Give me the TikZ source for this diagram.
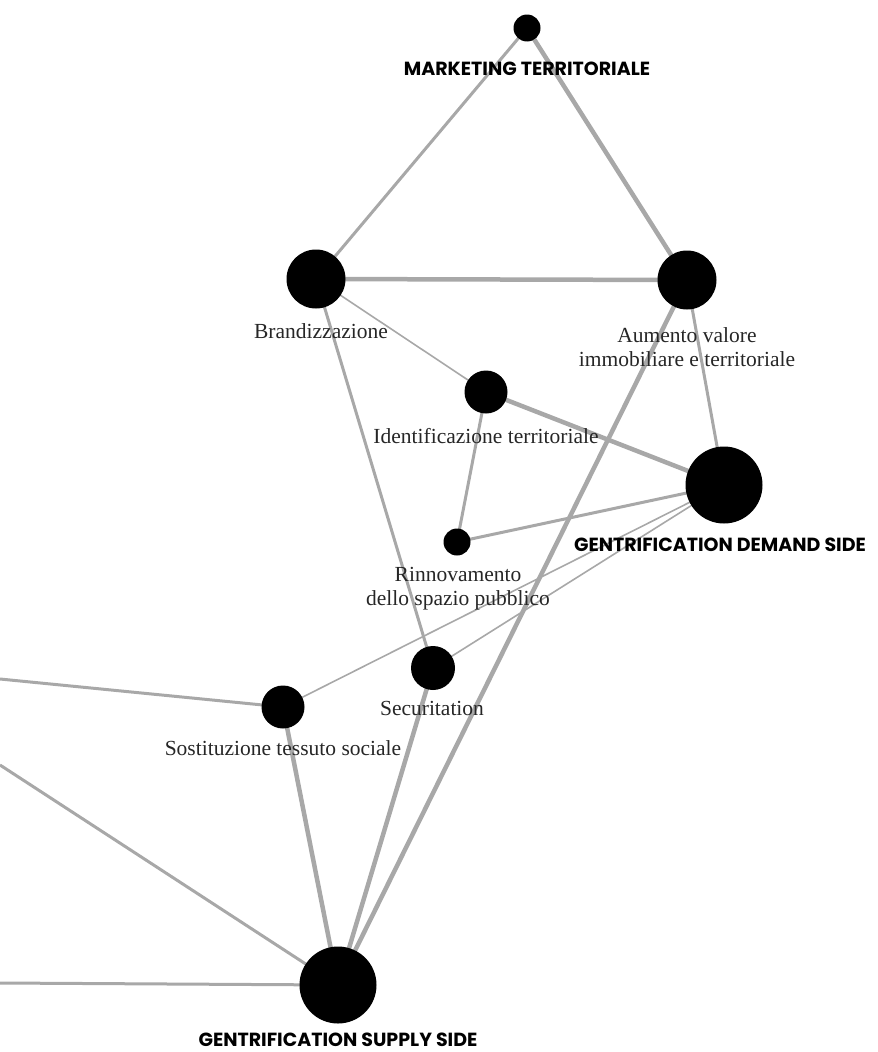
\documentclass[tikz,border=0pt]{standalone}
\usepackage{fontspec}
\setmainfont{Liberation Serif}
\setsansfont{Poppins}
\usetikzlibrary{backgrounds}
\definecolor{edgegray}{RGB}{168,168,168}
\tikzset{
  dot/.style={circle, fill=black, draw=none, inner sep=0pt, minimum size=#1},
  lbl/.style={font=\fontsize{21.5}{24}\selectfont, inner sep=0pt, align=center, text=black!85},
  caplbl/.style={font=\sffamily\bfseries\fontsize{19}{22}\selectfont, inner sep=0pt},
  thinE/.style={draw=edgegray, line width=1.6pt},
  medE/.style={draw=edgegray, line width=3pt},
  thickE/.style={draw=edgegray, line width=4.5pt},
}
\begin{document}
\begin{tikzpicture}[x=1pt,y=-1pt]
\useasboundingbox (0,0) rectangle (878,1052);
% nodes
\node[dot=27pt] (mkt) at (527,28) {};
\node[dot=59pt] (brand) at (316,279) {};
\node[dot=59pt] (aum) at (687,280) {};
\node[dot=43pt] (ident) at (486,392) {};
\node[dot=77pt] (dem) at (724,485) {};
\node[dot=27pt] (rinn) at (457,542) {};
\node[dot=44pt] (secu) at (433,668) {};
\node[dot=43pt] (sost) at (283,707) {};
\node[dot=77pt] (sup) at (338,985) {};
\coordinate (w1) at (0,679);
\coordinate (w2) at (0,765);
\coordinate (w3) at (0,983);
% edges
\begin{scope}[on background layer]
\draw[medE] (mkt.center) -- (brand.center);
\draw[thickE] (mkt.center) -- (aum.center);
\draw[thickE] (brand.center) -- (aum.center);
\draw[thinE] (brand.center) -- (ident.center);
\draw[medE] (brand.center) -- (secu.center);
\draw[medE] (aum.center) -- (dem.center);
\draw[thickE] (aum.center) -- (sup.center);
\draw[thickE] (ident.center) -- (dem.center);
\draw[medE] (ident.center) -- (rinn.center);
\draw[medE] (rinn.center) -- (dem.center);
\draw[thinE] (dem.center) -- (sost.center);
\draw[thinE] (dem.center) -- (secu.center);
\draw[medE] (w1) -- (sost.center);
\draw[thickE] (sost.center) -- (sup.center);
\draw[thickE] (secu.center) -- (sup.center);
\draw[medE] (w2) -- (sup.center);
\draw[medE] (w3) -- (sup.center);
\end{scope}
% labels
\node[caplbl] (mktL) at (527,69) {MARKETING TERRITORIALE};
\node[lbl] (brandL) at (321,331) {Brandizzazione};
\node[lbl] (aumL) at (687,347) {Aumento valore\\immobiliare e territoriale};
\node[lbl] (identL) at (486,436) {Identificazione territoriale};
\node[caplbl] (demL) at (720,545) {GENTRIFICATION DEMAND SIDE};
\node[lbl] (rinnL) at (458,589) {Rinnovamento\\dello spazio pubblico};
\node[lbl] (secuL) at (432,708) {Securitation};
\node[lbl] (sostL) at (283,748) {Sostituzione tessuto sociale};
\node[caplbl] (supL) at (338,1040) {GENTRIFICATION SUPPLY SIDE};
\end{tikzpicture}
\end{document}
